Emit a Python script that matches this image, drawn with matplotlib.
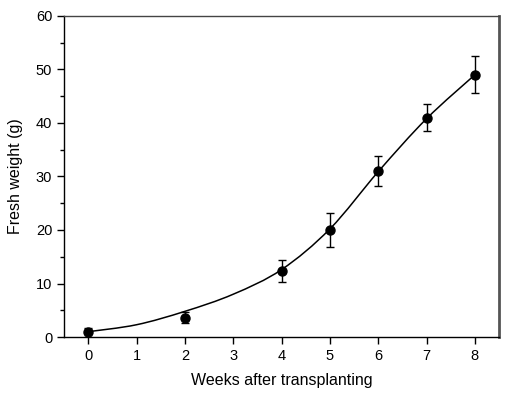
import numpy as np
import matplotlib.pyplot as plt
from matplotlib.path import Path
from matplotlib.patches import PathPatch
from matplotlib.ticker import MultipleLocator

plt.rcParams["font.family"] = ["Liberation Sans", "DejaVu Sans"]

# measured points
weeks = [0, 2, 4, 5, 6, 7, 8]
weight = [0.9, 3.6, 12.3, 20.0, 31.0, 41.0, 49.0]
err = [0.8, 1.0, 2.1, 3.1, 2.8, 2.5, 3.5]

# fitted curve
fit_x = [0, 1, 2, 3, 4, 5, 6, 7, 8]
fit_y = [1.0, 2.3, 4.8, 8.0, 12.6, 20.2, 30.9, 40.8, 49.0]

fig = plt.figure(figsize=(5.14, 3.97), dpi=100)
ax = fig.add_axes([0.1245, 0.151, 0.8465, 0.809])

# smooth curve: catmull-rom control points -> cubic bezier path
px = np.array(fit_x, float)
py = np.array(fit_y, float)
verts = [(px[0], py[0])]
codes = [Path.MOVETO]
n = len(px)
for i in range(n - 1):
    p0 = np.array([px[max(i - 1, 0)], py[max(i - 1, 0)]])
    p1 = np.array([px[i], py[i]])
    p2 = np.array([px[i + 1], py[i + 1]])
    p3 = np.array([px[min(i + 2, n - 1)], py[min(i + 2, n - 1)]])
    c1 = p1 + (p2 - p0) / 6
    c2 = p2 - (p3 - p1) / 6
    verts += [tuple(c1), tuple(c2), tuple(p2)]
    codes += [Path.CURVE4] * 3
ax.add_patch(PathPatch(Path(verts, codes), fill=False, lw=1.1, color="black"))

ax.errorbar(weeks, weight, yerr=err, fmt="o", color="black", ms=6.5,
            capsize=3, elinewidth=1, capthick=1)

ax.set_xlim(-0.5, 8.5)
ax.set_ylim(0, 60)
ax.xaxis.set_major_locator(MultipleLocator(1))
ax.yaxis.set_major_locator(MultipleLocator(10))
ax.yaxis.set_minor_locator(MultipleLocator(5))
ax.tick_params(direction="out", length=5, width=1, labelsize=10.5, top=False, right=False)
ax.tick_params(which="minor", direction="out", length=3, width=1)

for s in ax.spines.values():
    s.set_linewidth(1.0)
ax.spines["top"].set_color("#444444")
ax.spines["right"].set_linewidth(2.0)
ax.spines["right"].set_color("#555555")

ax.set_xlabel("Weeks after transplanting", fontsize=11.5, labelpad=7)
ax.set_ylabel("Fresh weight (g)", fontsize=11.5, labelpad=9)

fig.savefig("out.png", dpi=100)
